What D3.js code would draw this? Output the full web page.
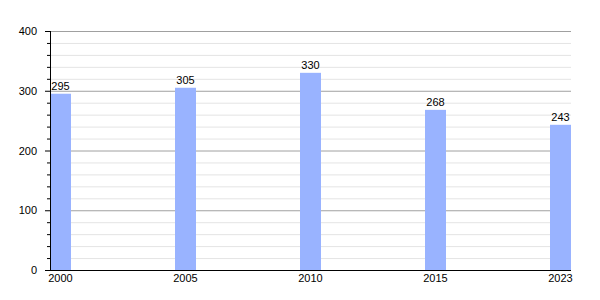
<!DOCTYPE html>
<html>
<head>
<meta charset="utf-8">
<script src="https://cdn.jsdelivr.net/npm/d3@7"></script>
<style>
  body { margin: 0; background: #fff; }
  text { font-family: "Liberation Sans", Arial, sans-serif; font-size: 11px; fill: #000; }
</style>
</head>
<body>
<div id="chart"></div>
<script>
const years = ['2000', '2005', '2010', '2015', '2023'];
const values = [295, 305, 330, 268, 243];
const majorTicks = [0, 100, 200, 300, 400];

const width = 600;
const height = 300;
const plotLeft = 50, plotRight = 571, plotTop = 31, plotBottom = 270;
const barWidth = 21;

const svg = d3.select('#chart').append('svg')
  .attr('width', width)
  .attr('height', height);

const y = d3.scaleLinear().domain([0, 400]).range([plotBottom, plotTop]);
const x = d3.scalePoint().domain(years).range([plotLeft + barWidth / 2, plotRight - barWidth / 2]);

// minor grid every 20
const minor = d3.range(20, 400, 20).filter((v) => v % 100 !== 0);
svg.append('g').selectAll('line').data(minor).enter().append('line')
  .attr('x1', plotLeft).attr('x2', plotRight)
  .attr('y1', (d) => y(d) + 0.5).attr('y2', (d) => y(d) + 0.5)
  .attr('stroke', '#e4e4e4');

svg.append('g').selectAll('line').data(majorTicks.filter((v) => v > 0)).enter().append('line')
  .attr('x1', plotLeft).attr('x2', plotRight)
  .attr('y1', (d) => y(d) + 0.5).attr('y2', (d) => y(d) + 0.5)
  .attr('stroke', '#a0a0a0');

// bars
svg.append('g').selectAll('rect').data(values).enter().append('rect')
  .attr('x', (d, i) => x(years[i]) - barWidth / 2)
  .attr('y', (d) => y(d))
  .attr('width', barWidth)
  .attr('height', (d) => plotBottom - y(d))
  .attr('fill', '#99b3ff');

// value labels
svg.append('g').selectAll('text').data(values).enter().append('text')
  .attr('x', (d, i) => x(years[i]))
  .attr('y', (d) => y(d) - 4)
  .attr('text-anchor', 'middle')
  .text((d) => d);

// y axis
svg.append('g').selectAll('line').data(minor).enter().append('line')
  .attr('x1', plotLeft - 3).attr('x2', plotLeft)
  .attr('y1', (d) => y(d) + 0.5).attr('y2', (d) => y(d) + 0.5)
  .attr('stroke', '#000');
svg.append('g').selectAll('line').data(majorTicks).enter().append('line')
  .attr('x1', plotLeft - 5).attr('x2', plotLeft)
  .attr('y1', (d) => y(d) + 0.5).attr('y2', (d) => y(d) + 0.5)
  .attr('stroke', '#000');
svg.append('g').selectAll('text').data(majorTicks).enter().append('text')
  .attr('x', plotLeft - 13)
  .attr('y', (d) => y(d) + 4)
  .attr('text-anchor', 'end')
  .text((d) => d);

svg.append('line')
  .attr('x1', plotLeft + 0.5).attr('x2', plotLeft + 0.5)
  .attr('y1', plotTop).attr('y2', plotBottom + 0.5)
  .attr('stroke', '#000');
svg.append('line')
  .attr('x1', plotLeft).attr('x2', plotRight)
  .attr('y1', plotBottom + 0.5).attr('y2', plotBottom + 0.5)
  .attr('stroke', '#000');

// x labels
svg.append('g').selectAll('text').data(years).enter().append('text')
  .attr('x', (d) => x(d))
  .attr('y', plotBottom + 12)
  .attr('text-anchor', 'middle')
  .text((d) => d);
</script>
</body>
</html>
